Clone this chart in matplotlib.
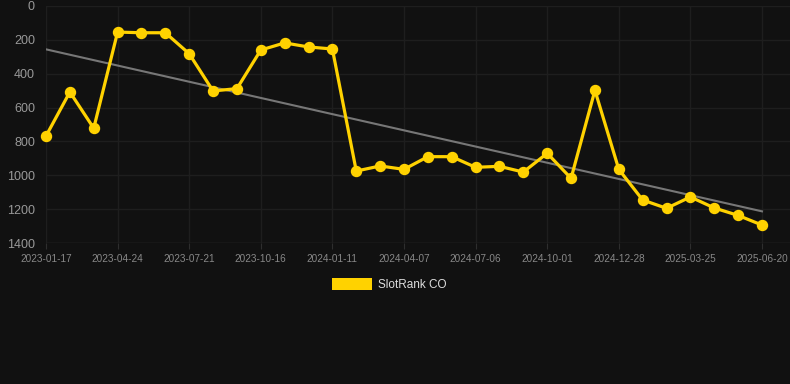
import matplotlib
matplotlib.use("Agg")
import matplotlib.pyplot as plt
from matplotlib.patches import Rectangle

plt.rcParams['font.family'] = ['Liberation Sans', 'DejaVu Sans']

tick_dates = ["2023-01-17", "2023-04-24", "2023-07-21", "2023-10-16", "2024-01-11",
              "2024-04-07", "2024-07-06", "2024-10-01", "2024-12-28", "2025-03-25",
              "2025-06-20"]
rank_values = [768, 508, 722, 154, 158, 158, 282, 502, 488, 260, 218, 242, 254,
               975, 945, 965, 890, 890, 953, 947, 981, 870, 1018, 498, 965,
               1146, 1195, 1128, 1193, 1237, 1294]
trend_values = [256, 1213]
y_ticks = [0, 200, 400, 600, 800, 1000, 1200, 1400]
series_name = "SlotRank CO"

bg = "#111111"
gold = "#FFD200"

fig = plt.figure(figsize=(7.9, 3.84), dpi=100, facecolor=bg)
W, H = 790, 384
left, right, top, bottom = 46, 790, 6, 243
ax = fig.add_axes([left / W, 1 - bottom / H, (right - left) / W, (bottom - top) / H])
ax.set_facecolor(bg)

n = len(rank_values)
xs = list(range(n))
step = (762 - 46) / (n - 1)
ax.set_xlim(0, (right - left) / step)
ax.set_ylim(1400, 0)

ax.plot([0, n - 1], trend_values, color="#777777", lw=1.5, zorder=2)
ax.plot(xs, rank_values, color=gold, lw=2.3, marker='o', ms=7.2, zorder=3,
        solid_joinstyle='round', clip_on=False)

ax.set_yticks(y_ticks)
ax.set_yticklabels([str(v) for v in y_ticks])
ax.set_xticks(xs[::3])
ax.set_xticklabels(tick_dates)

for s in ax.spines.values():
    s.set_visible(False)
ax.grid(True, color="#1e1e1e", lw=1)
ax.axhline(1400, color="#2e2e2e", lw=1, zorder=1)
ax.tick_params(axis='y', length=0, pad=8, labelsize=9, labelcolor="#999999")
ax.tick_params(axis='x', length=4, color="#2e2e2e", pad=4, labelsize=7.2,
               labelcolor="#888888")

# legend
fig.patches.append(Rectangle((332 / W, 1 - 290 / H), 40 / W, 12 / H,
                             transform=fig.transFigure, facecolor=gold,
                             edgecolor='none'))
fig.text(378 / W, 1 - 284.5 / H, series_name, color="#dddddd", fontsize=8.5,
         va='center', ha='left')

fig.savefig("out.png", dpi=100, facecolor=bg)
